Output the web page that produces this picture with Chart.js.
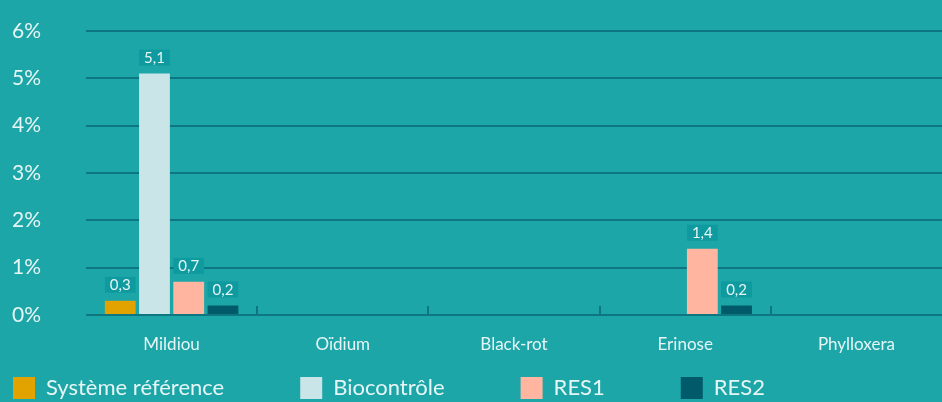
<!DOCTYPE html>
<html>
<head>
<meta charset="utf-8">
<script src="https://cdn.jsdelivr.net/npm/chart.js@4.4.1/dist/chart.umd.min.js"></script>
<style>
  html, body { margin: 0; padding: 0; background: #1ca6a8; }
  #wrap { width: 942px; height: 402px; }
</style>
</head>
<body>
<div id="wrap"><canvas id="canvasMaladies" width="942" height="402"></canvas></div>
<script>
var maladies = ['Mildiou', 'Oïdium', 'Black-rot', 'Erinose', 'Phylloxera'];
var systemeReference = [0.3, 0, 0, 0, 0];
var biocontrole = [5.1, 0, 0, 0, 0];
var res1 = [0.7, 0, 0, 1.4, 0];
var res2 = [0.2, 0, 0, 0.2, 0];
var yTicks = [0, 1, 2, 3, 4, 5, 6];

var gridColor = '#0e7680';
var textColor = '#e6f5f5';
var legendGap = 76;

// value boxes above the bars + small ticks between categories
var decorations = {
  id: 'decorations',
  afterLayout: function(chart) {
    // legend row: first box at x=13, boxes top at y=377
    chart.legend.left = 13 - legendGap;
    chart.legend.top = 377 - legendGap;
  },
  afterDatasetsDraw: function(chart) {
    var ctx = chart.ctx;
    var x = chart.scales.x;
    var y = chart.scales.y;
    var base = y.getPixelForValue(0);

    ctx.save();
    ctx.strokeStyle = gridColor;
    ctx.lineWidth = 2;
    for (var i = 0; i < maladies.length - 1; i++) {
      var bx = Math.round((x.getPixelForTick(i) + x.getPixelForTick(i + 1)) / 2);
      ctx.beginPath();
      ctx.moveTo(bx, base);
      ctx.lineTo(bx, base - 9);
      ctx.stroke();
    }

    ctx.font = '15px Lato';
    ctx.textAlign = 'center';
    ctx.textBaseline = 'middle';
    chart.data.datasets.forEach(function(ds, d) {
      var meta = chart.getDatasetMeta(d);
      meta.data.forEach(function(bar, j) {
        var v = ds.data[j];
        if (!v) return;
        var w = bar.width;
        var top = bar.y - 8 - 16;
        ctx.fillStyle = '#0e9a9e';
        ctx.fillRect(bar.x - w / 2, top, w, 16);
        ctx.fillStyle = textColor;
        ctx.fillText(String(v).replace('.', ','), bar.x, top + 8.5);
      });
    });
    ctx.restore();
  }
};

var chartdata = {
  labels: maladies,
  datasets: [
    { label: 'Système référence', backgroundColor: '#e2a300', borderWidth: 0, data: systemeReference },
    { label: 'Biocontrôle', backgroundColor: '#c9e5e8', borderWidth: 0, data: biocontrole },
    { label: 'RES1', backgroundColor: '#ffb5a0', borderWidth: 0, data: res1 },
    { label: 'RES2', backgroundColor: '#015a6a', borderWidth: 0, data: res2 }
  ]
};

var ctx = document.getElementById('canvasMaladies');

// legend reserves 22 + gap + 10 px, x axis 45 px; bottom padding pulls
// the plot bottom back down to y=315
var legendHeight = 22 + legendGap + 10;
var xAxisHeight = 45;

var barGraph = new Chart(ctx, {
  type: 'bar',
  data: chartdata,
  plugins: [decorations],
  options: {
    responsive: false,
    animation: false,
    layout: { padding: { left: 12, right: 0, top: 31, bottom: 402 - 315 - legendHeight - xAxisHeight } },
    datasets: { bar: { categoryPercentage: 0.8, barPercentage: 0.9 } },
    plugins: {
      tooltip: { enabled: false },
      legend: {
        position: 'bottom',
        align: 'start',
        labels: {
          boxWidth: 22,
          boxHeight: 22,
          padding: legendGap,
          color: textColor,
          font: { family: 'Lato', size: 22 }
        }
      }
    },
    scales: {
      x: {
        grid: { display: false },
        border: { display: false },
        ticks: {
          color: textColor,
          padding: 11,
          font: { family: 'Lato', size: 17 }
        },
        afterFit: function(scale) { scale.height = xAxisHeight; }
      },
      y: {
        min: 0,
        max: 6,
        afterBuildTicks: function(scale) {
          scale.ticks = yTicks.map(function(v) { return { value: v }; });
        },
        grid: { color: gridColor, lineWidth: 2, drawTicks: false },
        border: { display: false },
        ticks: {
          color: textColor,
          crossAlign: 'far',
          font: { family: 'Lato', size: 21 },
          callback: function(v) { return v + '%'; }
        },
        afterFit: function(scale) { scale.width = 74; }
      }
    }
  }
});
</script>
</body>
</html>
